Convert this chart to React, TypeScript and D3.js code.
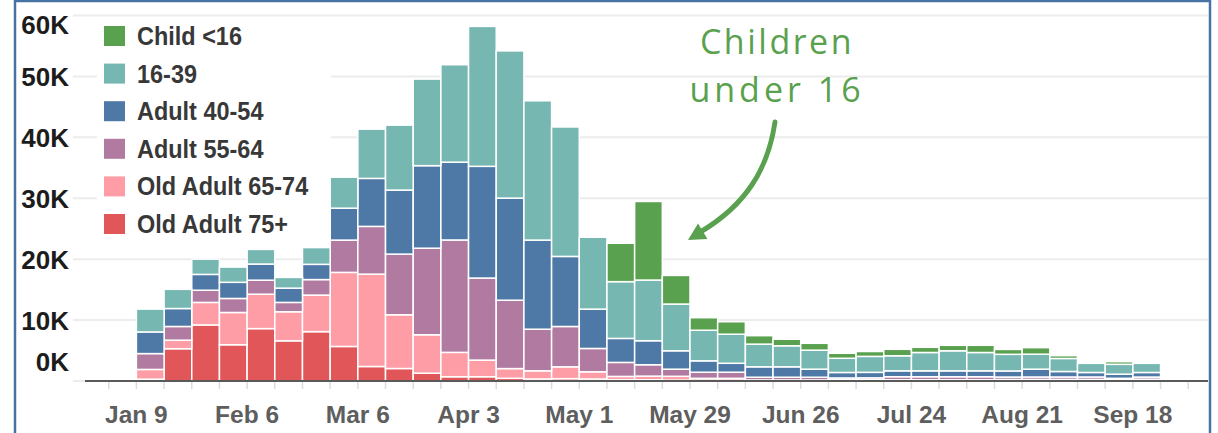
import React from 'react';
import * as d3 from 'd3';

// weekly buckets (week starting)
const weeks = [
  '2022-01-09', '2022-01-16', '2022-01-23', '2022-01-30', '2022-02-06', '2022-02-13', '2022-02-20', '2022-02-27',
  '2022-03-06', '2022-03-13', '2022-03-20', '2022-03-27', '2022-04-03', '2022-04-10', '2022-04-17', '2022-04-24',
  '2022-05-01', '2022-05-08', '2022-05-15', '2022-05-22', '2022-05-29', '2022-06-05', '2022-06-12', '2022-06-19',
  '2022-06-26', '2022-07-03', '2022-07-10', '2022-07-17', '2022-07-24', '2022-07-31', '2022-08-07', '2022-08-14',
  '2022-08-21', '2022-08-28', '2022-09-04', '2022-09-11', '2022-09-18',
];

// values in thousands
const child = [
  0, 0, 0, 0, 0, 0, 0, 0, 0, 0, 0, 0, 0, 0, 0, 0,
  0, 6.3, 12.9, 4.7, 2.06, 2.05, 1.39, 1.07, 1.13, 0.82, 0.8, 1.06, 0.85, 0.9, 1.18, 0.8,
  1.07, 0.46, 0, 0.43, 0,
];
const age16to39 = [
  3.75, 3.15, 2.5, 2.5, 2.4, 1.76, 2.75, 5.09, 8.08, 10.66, 14.21, 16.0, 22.97, 24.17, 22.87, 21.25,
  11.8, 9.32, 9.96, 7.67, 5.02, 4.77, 3.72, 3.45, 3.12, 2.33, 2.62, 2.47, 3.01, 3.29, 3.01, 2.73,
  2.46, 2.14, 1.5, 1.62, 1.5,
];
const adult40to54 = [
  3.55, 2.95, 2.6, 2.65, 2.65, 2.34, 2.5, 5.24, 7.88, 10.51, 13.55, 12.77, 18.34, 16.76, 14.63, 11.5,
  6.46, 3.94, 3.94, 3.02, 1.87, 1.47, 1.71, 1.71, 1.32, 0.9, 0.9, 0.97, 0.97, 0.97, 0.97, 1.0,
  1.28, 0.9, 0.74, 0.68, 0.75,
];
const adult55to64 = [
  2.6, 2.25, 2.0, 2.3, 2.3, 1.53, 2.55, 5.3, 7.84, 9.96, 14.21, 18.45, 13.47, 11.22, 6.83, 6.62,
  3.83, 2.3, 1.87, 1.17, 1.0, 1.0, 0.45, 0.45, 0.45, 0.3, 0.3, 0.5, 0.5, 0.5, 0.5, 0.4,
  0.4, 0.4, 0.4, 0.24, 0.35,
];
const old65to74 = [
  1.6, 1.4, 3.7, 5.3, 5.65, 4.77, 6.0, 12.16, 15.16, 8.82, 6.31, 4.0, 2.73, 1.6, 1.34, 1.95,
  1.18, 0.55, 0.6, 0.62, 0.3, 0.3, 0.1, 0.1, 0.1, 0.15, 0.12, 0.12, 0.12, 0.12, 0.12, 0.15,
  0.16, 0.16, 0.16, 0.12, 0.2,
];
const old75plus = [
  0.3, 5.3, 9.2, 5.95, 8.6, 6.6, 8.1, 5.67, 2.38, 2.05, 1.28, 0.7, 0.7, 0.44, 0.33, 0.38,
  0.33, 0.2, 0.2, 0.15, 0.14, 0.14, 0.07, 0.07, 0.07, 0.05, 0.1, 0.08, 0.08, 0.08, 0.08, 0.1,
  0.1, 0.1, 0.1, 0.08, 0.1,
];

const seriesNames = ['Child <16', '16-39', 'Adult 40-54', 'Adult 55-64', 'Old Adult 65-74', 'Old Adult 75+'];
const seriesColors = ['#59a14f', '#76b7b2', '#4e79a7', '#b07aa1', '#ff9da7', '#e15759'];
const yTicks = [0, 10, 20, 30, 40, 50, 60];

const W = 1218;
const H = 433;

const App: React.FC = () => {
  const parse = d3.timeParse('%Y-%m-%d');
  const dates = weeks.map((w) => parse(w) as Date);
  const columns = [child, age16to39, adult40to54, adult55to64, old65to74, old75plus];

  // stack from the bottom (75+) up to children
  const keys = [5, 4, 3, 2, 1, 0].map(String);
  const rows = dates.map((d, i) => {
    const r: any = { date: d };
    columns.forEach((c, k) => { r[k] = c[i]; });
    return r;
  });
  const stacked = d3.stack<any>().keys(keys)(rows);

  const x = d3.scaleTime()
    .domain([new Date(2021, 11, 27), new Date(2022, 9, 7)])
    .range([85, 1208]);
  const y = d3.scaleLinear().domain([0, 60]).range([381, 15.5]);

  const tickWeeks = d3.timeWeek.range(new Date(2022, 0, 2), new Date(2022, 9, 8));
  const labelWeeks = dates.filter((_, i) => i % 4 === 0);
  const fmt = d3.timeFormat('%b %-d');

  const font = '"Liberation Sans", Arial, sans-serif';

  return (
    <div style={{ position: 'absolute', left: 0, top: 0 }}>
      <svg width={W} height={H} style={{ display: 'block', background: '#fff' }}>
        {/* gridlines */}
        {yTicks.filter((t) => t > 0).map((t) => (
          <line key={t} x1={73} x2={1208} y1={y(t)} y2={y(t)} stroke="#ececec" strokeWidth={2} />
        ))}
        <line x1={73} x2={85} y1={y(0)} y2={y(0)} stroke="#ececec" strokeWidth={2} />

        {/* bars */}
        {stacked.map((s) => (
          <g key={s.key} fill={seriesColors[+s.key]}>
            {s.map((d, i) => {
              const x0 = x(d.data.date);
              const x1 = x(d3.timeDay.offset(d.data.date, 7));
              return (
                <rect
                  key={i}
                  x={x0}
                  width={x1 - x0}
                  y={y(d[1])}
                  height={Math.max(0, y(d[0]) - y(d[1]))}
                  stroke="#fff"
                  strokeWidth={1.5}
                />
              );
            })}
          </g>
        ))}

        {/* x axis */}
        {tickWeeks.map((t, i) => (
          <line key={i} x1={x(t)} x2={x(t)} y1={382} y2={389} stroke="#dcdcdc" strokeWidth={1.5} />
        ))}
        <line x1={85} x2={1208} y1={y(0)} y2={y(0)} stroke="#5a5a5a" strokeWidth={2} />
        {labelWeeks.map((t, i) => (
          <text key={i} x={x(t)} y={423} textAnchor="middle" fontFamily={font} fontWeight="bold"
            fontSize={24.5} fill="#5e5e5e">{fmt(t)}</text>
        ))}

        {/* y axis labels */}
        {yTicks.map((t) => {
          const cy = Math.min(Math.max(y(t), 24), 361);
          return (
            <text key={t} x={69} y={cy + 9.5} textAnchor="end" fontFamily={font} fontWeight="bold"
              fontSize={26} fill="#1c1c1c">{`${t}K`}</text>
          );
        })}

        {/* legend */}
        <rect x={97} y={18} width={234} height={229.5} fill="#fff" />
        {seriesNames.map((n, i) => {
          const cy = 36 + i * 37.6;
          return (
            <g key={n}>
              <rect x={104} y={cy - 10} width={21} height={20} fill={seriesColors[i]} />
              <text transform={`translate(137,${cy + 9}) scale(0.92,1)`} fontFamily={font}
                fontWeight="bold" fontSize={25.5} fill="#383838">{n}</text>
            </g>
          );
        })}

        {/* annotation */}
        <g fill="#5aa14f" fontFamily='"Open Sans", Lato, sans-serif' fontWeight={400} fontSize={34}
          textAnchor="middle">
          <text x={777} y={54} letterSpacing={2.5}>Children</text>
          <text x={777} y={102} letterSpacing={4}>under 16</text>
        </g>
        <path d="M775,122 C768,170 745,205 702,231" fill="none" stroke="#5aa14f" strokeWidth={5}
          strokeLinecap="round" />
        <polygon points="688,240 698,223.5 707.5,239" fill="#5aa14f" />

        {/* frame */}
        <rect x={15} y={1} width={1195} height={H + 10} fill="none" stroke="#4773a3" strokeWidth={2.5} />
      </svg>
    </div>
  );
};

export default App;
